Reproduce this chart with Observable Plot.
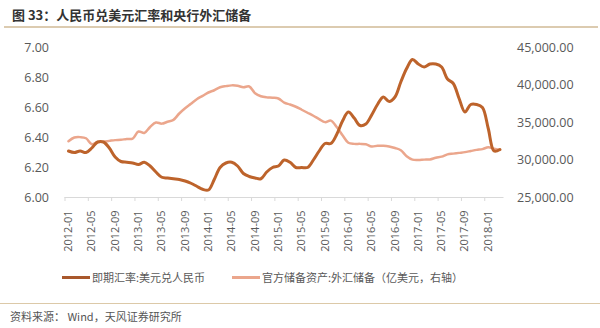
<!DOCTYPE html>
<html>
<head>
<meta charset="utf-8">
<script src="https://cdn.jsdelivr.net/npm/d3@7"></script>
<script src="https://cdn.jsdelivr.net/npm/@observablehq/plot@0.6"></script>
<style>
  html, body { margin: 0; padding: 0; background: #fff; }
  #wrap { position: relative; width: 600px; height: 328px; overflow: hidden; font-family: "Noto Sans CJK SC", "Open Sans", sans-serif; }
  #title { position: absolute; left: 12px; top: 5px; font-size: 13px; font-weight: bold; color: #333; white-space: nowrap; }
  #rule1 { position: absolute; left: 4px; top: 26px; width: 594px; height: 2px; background: #dccbb0; }
  #chart { position: absolute; left: 0; top: 30px; }
  #legend { position: absolute; left: 0; top: 268px; width: 600px; height: 18px; font-size: 11px; color: #595959; }
  .sw { position: absolute; top: 8px; height: 3px; width: 28px; }
  .lt { position: absolute; top: 0; white-space: nowrap; line-height: 18px; }
  #rule2 { position: absolute; left: 0; top: 303px; width: 600px; height: 1px; background: #dcc9a8; }
  #source { position: absolute; left: 10px; top: 308px; font-size: 11px; color: #555; white-space: nowrap; line-height: 16px; }
</style>
</head>
<body>
<div id="wrap">
  <div id="title">图 33：人民币兑美元汇率和央行外汇储备</div>
  <div id="rule1"></div>
  <div id="chart"></div>
  <div id="legend"></div>
  <div id="rule2"></div>
  <div id="source">资料来源： Wind，天风证券研究所</div>
</div>
<script>
// Tick labels (every 4 months)
const tickLabels = ["2012-01","2012-05","2012-09","2013-01","2013-05","2013-09","2014-01","2014-05","2014-09","2015-01","2015-05","2015-09","2016-01","2016-05","2016-09","2017-01","2017-05","2017-09","2018-01"];

// Monthly series, 2012-01 .. 2018-03
const fxRate = [
  6.31,6.30,6.31,6.30,6.33,6.37,6.37,6.33,6.27,6.24,6.235,6.23,
  6.22,6.235,6.21,6.17,6.135,6.13,6.125,6.12,6.11,6.095,6.075,6.055,
  6.05,6.12,6.20,6.23,6.235,6.21,6.16,6.14,6.13,6.125,6.17,6.20,
  6.21,6.25,6.235,6.20,6.20,6.20,6.25,6.31,6.36,6.36,6.42,6.51,
  6.57,6.53,6.48,6.49,6.55,6.62,6.67,6.64,6.67,6.77,6.86,6.92,
  6.89,6.87,6.89,6.89,6.87,6.79,6.76,6.66,6.57,6.62,6.62,6.60,
  6.46,6.31,6.32
];
const fxReserves = [
  32500,33000,33050,32900,32100,32400,32450,32550,32650,32700,32800,32850,
  33800,33600,34400,35000,34850,35100,35350,36200,36900,37500,38100,38550,
  39000,39300,39700,39850,39950,39900,39700,39800,38900,38500,38350,38300,
  38200,37650,37400,37100,36700,36300,35900,35450,35050,35250,34400,33300,
  32300,32150,32150,32100,31800,31900,31900,31800,31600,31300,30500,30050,
  30000,30050,30080,30300,30450,30750,30850,30950,31050,31200,31350,31450,
  31700,31500,31350
];
const leftTicks = [6.0, 6.2, 6.4, 6.6, 6.8, 7.0];
const rightTicks = [25000, 30000, 35000, 40000, 45000];
const seriesNames = ["即期汇率:美元兑人民币", "官方储备资产:外汇储备（亿美元，右轴）"];
const colors = ["#bd632b", "#eba68c"];

// right axis mapped onto the left scale
const rMin = 25000, rMax = 45000, lMin = 6, lMax = 7;
const toLeft = r => lMin + (r - rMin) / (rMax - rMin) * (lMax - lMin);

const fxData = fxRate.map((v, i) => ({i, v}));
const resData = fxReserves.map((r, i) => ({i, v: toLeft(r)}));

const numFont = "'Open Sans', 'Noto Sans', sans-serif";

const chart = Plot.plot({
  width: 600,
  height: 230,
  marginTop: 17,
  marginBottom: 63,
  marginLeft: 64.5,
  marginRight: 96.5,
  x: {domain: [-0.6, 74.7], axis: null},
  y: {domain: [lMin, lMax], axis: null},
  style: {fontFamily: numFont, fontSize: "12.5px", color: "#595959", background: "transparent"},
  marks: [
    Plot.ruleY([lMin], {stroke: "#d9d9d9", strokeWidth: 1}),
    Plot.axisX(tickLabels.map((_, k) => 4 * k - 0.6), {tickSize: 4, tickFormat: () => "", stroke: "#d9d9d9", label: null}),
    Plot.axisX(tickLabels.map((_, k) => 4 * k), {
      tickSize: 0, tickRotate: -90, tickPadding: 13, label: null,
      tickFormat: d => tickLabels[d / 4], fontSize: 11, fill: "#595959"
    }),
    Plot.axisY(leftTicks, {anchor: "left", tickSize: 0, tickPadding: 16, tickFormat: d3.format(".2f"), fill: "#595959", label: null}),
    Plot.axisY(rightTicks.map(toLeft), {
      anchor: "right", tickSize: 0, tickPadding: 13, label: null,
      tickFormat: v => d3.format(",.2f")(rMin + (v - lMin) / (lMax - lMin) * (rMax - rMin)),
      fill: "#595959"
    }),
    Plot.line(resData, {x: "i", y: "v", stroke: colors[1], strokeWidth: 2.5, curve: "catmull-rom"}),
    Plot.line(fxData, {x: "i", y: "v", stroke: colors[0], strokeWidth: 3, curve: "catmull-rom"})
  ]
});
document.getElementById("chart").appendChild(chart);

// legend
const legend = document.getElementById("legend");
const legendPos = [{sw: 62, tx: 92}, {sw: 232, tx: 262}];
seriesNames.forEach((name, k) => {
  const sw = document.createElement("div");
  sw.className = "sw";
  sw.style.left = legendPos[k].sw + "px";
  sw.style.background = k === 0 ? "#a9582c" : colors[1];
  legend.appendChild(sw);
  const t = document.createElement("div");
  t.className = "lt";
  t.style.left = legendPos[k].tx + "px";
  t.textContent = name;
  legend.appendChild(t);
});
</script>
</body>
</html>
